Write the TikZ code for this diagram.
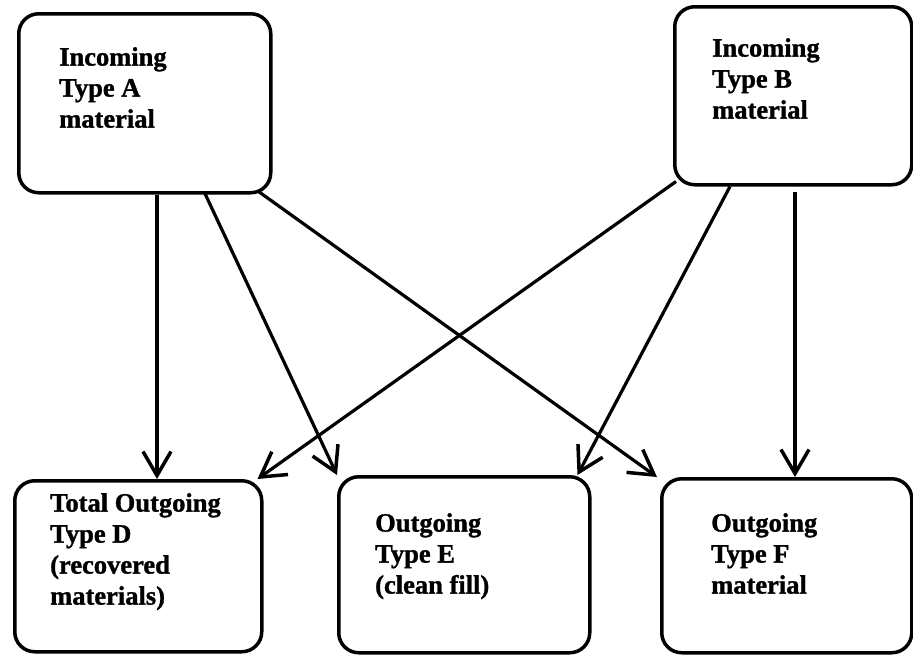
\documentclass[tikz,border=0pt]{standalone}
\usepackage{fontspec}
\setmainfont{Liberation Serif}[BoldFeatures={FakeBold=1.2}]
\usetikzlibrary{arrows.meta}
\begin{document}
\begin{tikzpicture}[x=1pt,y=-1pt,
  box/.style={draw=black, line width=3.5pt, rounded corners=20pt, anchor=north west, inner sep=0pt},
  label/.style={anchor=north west, inner sep=0pt, align=left,
    font=\fontsize{26.5}{31}\selectfont\bfseries},
  flow/.style={line width=3.2pt, -{Straight Barb[length=24pt,width=28pt,line width=3.5pt]}}]
\useasboundingbox (0,0) rectangle (913,654);
% boxes
\node[box, minimum width=252pt, minimum height=179pt] (A) at (17,12) {};
\node[box, minimum width=237pt, minimum height=178pt] (B) at (673,5) {};
\node[box, minimum width=247pt, minimum height=171pt] (D) at (13,479) {};
\node[box, minimum width=251pt, minimum height=176pt] (E) at (337,475) {};
\node[box, minimum width=250pt, minimum height=174pt] (F) at (660,477) {};
% texts
\node[label] (tA) at (59,47) {Incoming\\Type A\\material};
\node[label] (tB) at (712,38) {Incoming\\Type B\\material};
\node[label] (tD) at (50,493) {Total Outgoing\\Type D\\(recovered\\materials)};
\node[label] (tE) at (375,513) {Outgoing\\Type E\\(clean fill)};
\node[label] (tF) at (711,513) {Outgoing\\Type F\\material};
% connectors
\draw[flow] ([xshift=140pt]A.south west) -- ([xshift=144pt]D.north west);
\draw[flow] ([xshift=187pt,yshift=3pt]A.south west) -- (E.north west);
\draw[flow] ([xshift=-14pt,yshift=3pt]A.south east) -- ([xshift=-3pt]F.north west);
\draw[flow] ([xshift=3pt,yshift=5pt]B.south west) -- ([xshift=-6pt]D.north east);
\draw[flow] ([xshift=57pt]B.south west) -- ([xshift=-14pt]E.north east);
\draw[flow] ([xshift=122pt,yshift=-5pt]B.south west) -- ([xshift=135pt]F.north west);
\end{tikzpicture}
\end{document}
